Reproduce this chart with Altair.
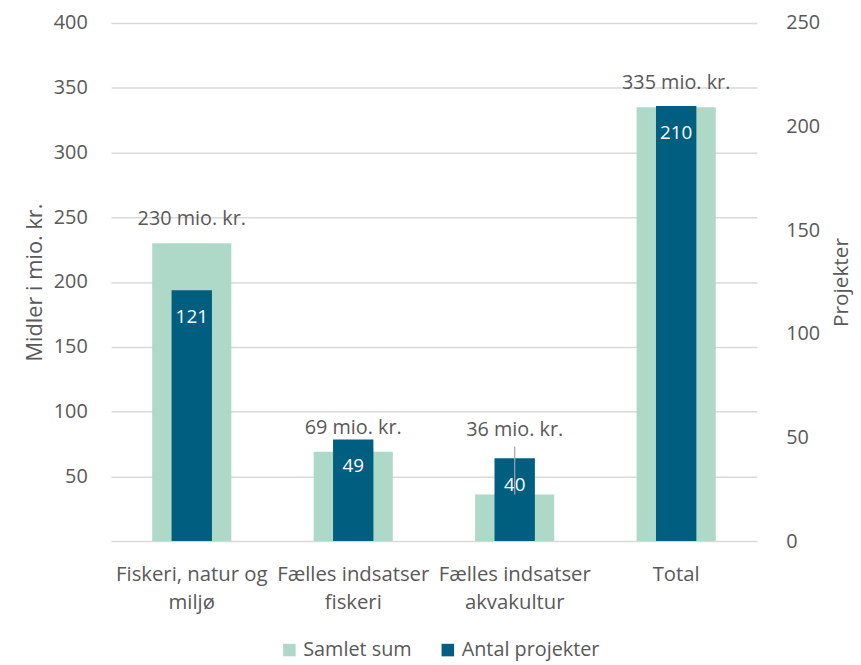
import altair as alt
import pandas as pd

categories = ["Fiskeri, natur og miljø", "Fælles indsatser fiskeri", "Fælles indsatser akvakultur", "Total"]
label_lines = [["Fiskeri, natur og", "miljø"], ["Fælles indsatser", "fiskeri"], ["Fælles indsatser", "akvakultur"], ["Total"]]
samlet_sum = [230, 69, 36, 335]
antal_projekter = [121, 49, 40, 210]
samlet_labels = ["230 mio. kr.", "69 mio. kr.", "36 mio. kr.", "335 mio. kr."]

series_names = ["Samlet sum", "Antal projekter"]
series_colors = ["#AED9C8", "#005E80"]

df = pd.DataFrame({
    "cat": categories,
    "samlet": samlet_sum,
    "antal": antal_projekter,
    "slabel": samlet_labels,
})

FONT = "Open Sans"
TXT = "#595959"

expr_parts = []
for c, lines in zip(categories, label_lines):
    arr = "[" + ",".join("'" + l + "'" for l in lines) + "]"
    expr_parts.append(f"datum.value == '{c}' ? {arr} : ")
label_expr = "".join(expr_parts) + "datum.label"

x = alt.X("cat:N", sort=categories, title=None,
          scale=alt.Scale(paddingInner=0, paddingOuter=0),
          axis=alt.Axis(labelExpr=label_expr, labelAngle=0, ticks=False, domain=False,
                        labelPadding=24, labelLineHeight=28, labelFontSize=20.5,
                        labelColor=TXT, labelFont=FONT))

color = alt.Color("series:N", scale=alt.Scale(domain=series_names, range=series_colors),
                  title=None,
                  legend=alt.Legend(orient="none", direction="horizontal", legendX=170, legendY=623,
                                    symbolType="square", symbolSize=160, symbolStrokeWidth=0,
                                    labelFontSize=20, labelColor=TXT, labelFont=FONT,
                                    columnPadding=26, labelOffset=4))

left_scale = alt.Scale(domain=[0, 400], nice=False)
right_scale = alt.Scale(domain=[0, 250], nice=False)

y_left = alt.Y("samlet:Q", scale=left_scale,
               axis=alt.Axis(title="Midler i mio. kr.", values=list(range(0, 401, 50)),
                             labelExpr="datum.value == 0 ? '' : datum.label",
                             ticks=False, domain=False, labelPadding=24,
                             gridColor="#D9D9D9", gridWidth=1.5,
                             titlePadding=7, titleFontSize=22, titleFontWeight="normal",
                             titleColor=TXT, titleFont=FONT,
                             labelFontSize=20, labelColor=TXT, labelFont=FONT))

base = alt.Chart(df)

wide = base.transform_calculate(series="'Samlet sum'").mark_bar(
    width=alt.RelativeBandSize(0.49)).encode(x=x, y=y_left, color=color)

lab_main = base.transform_filter(f"datum.cat != '{categories[2]}'").mark_text(
    dy=-24, fontSize=20, color=TXT, font=FONT).encode(x=x, y="samlet:Q", text="slabel:N")
lab_akva = base.transform_filter(f"datum.cat == '{categories[2]}'").mark_text(
    dy=-65, fontSize=20, color=TXT, font=FONT).encode(x=x, y="samlet:Q", text="slabel:N")

left_layer = alt.layer(wide, lab_main, lab_akva)

y_right = alt.Y("antal:Q", scale=right_scale,
                axis=alt.Axis(title="Projekter", orient="right", values=list(range(0, 251, 50)),
                              ticks=False, domain=False, grid=False, labelPadding=29,
                              titlePadding=11, titleAngle=270, titleBaseline="top",
                              titleFontSize=21, titleFontWeight="normal",
                              titleColor=TXT, titleFont=FONT,
                              labelFontSize=20, labelColor=TXT, labelFont=FONT))

narrow = base.transform_calculate(series="'Antal projekter'").mark_bar(
    width=alt.RelativeBandSize(0.25)).encode(x=x, y=y_right, color=color)
narrow_lab = base.mark_text(dy=27, fontSize=19, color="white", font=FONT).encode(
    x=x, y=alt.Y("antal:Q", scale=right_scale), text="antal:Q")

right_layer = alt.layer(narrow, narrow_lab)

leader = base.transform_filter(f"datum.cat == '{categories[2]}'").transform_calculate(
    top="datum.samlet + 37").mark_rule(color="#A6A6A6", strokeWidth=1.2).encode(
    x=x, y=alt.Y("samlet:Q", scale=left_scale, axis=None), y2="top:Q")

chart = alt.layer(left_layer, right_layer, leader).resolve_scale(y="independent").properties(
    width=652, height=523,
    autosize=alt.AutoSizeParams(type="none"),
    padding={"left": 104, "top": 12, "right": 97, "bottom": 130},
).configure_view(stroke=None)

chart.save("out.html", embed_options={"renderer": "svg", "actions": False})
